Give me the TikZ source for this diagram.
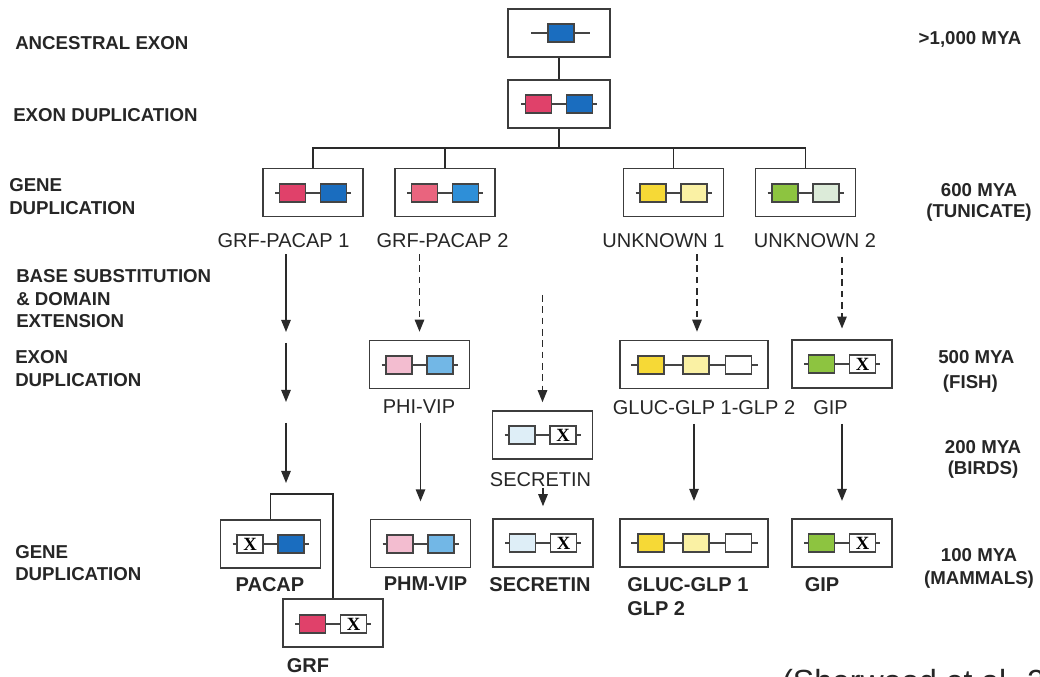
\documentclass[tikz,border=0pt]{standalone}
\usepackage{fontspec}
\setmainfont{Liberation Sans}
\newfontfamily\xfont{Liberation Serif}
\usetikzlibrary{arrows.meta}
\definecolor{blueA}{HTML}{1A6DBF}
\definecolor{pinkA}{HTML}{E0416A}
\definecolor{pinkB}{HTML}{E9647E}
\definecolor{blueB}{HTML}{2E8FD8}
\definecolor{pinkC}{HTML}{F3BDD0}
\definecolor{blueC}{HTML}{72B7E6}
\definecolor{yelA}{HTML}{F6D936}
\definecolor{yelB}{HTML}{FAF1A4}
\definecolor{grnA}{HTML}{8DC440}
\definecolor{grnB}{HTML}{DCEBD9}
\definecolor{secB}{HTML}{DEEEF7}
\definecolor{exc}{HTML}{444444}
\definecolor{boxc}{HTML}{3C3C3C}
\definecolor{linec}{HTML}{2A2A2A}
\definecolor{txt}{HTML}{262626}
\newcommand\XX{\xfont\bfseries\fontsize{14}{14}\selectfont X}
\newcommand\gtwo[7]{%
  \draw[exline] (#2-38,#3) -- (#2+38,#3);
  \node[exon,fill=#4] (#1a) at (#2-20.5,#3) {#5};
  \node[exon,fill=#6] (#1b) at (#2+20.5,#3) {#7};}
\begin{document}
\begin{tikzpicture}[x=0.75pt,y=-0.75pt,
  box/.style={draw=boxc,line width=1.15pt,minimum width=75pt,minimum height=36pt,inner sep=0pt},
  exon/.style={draw=exc,line width=0.8pt,minimum width=19.5pt,minimum height=13.5pt,inner sep=0pt},
  exline/.style={draw=exc,line width=1pt},
  stage/.style={font=\bfseries\fontsize{14}{17.25}\selectfont,align=left,anchor=north west,inner sep=0pt,text=txt},
  age/.style={font=\bfseries\fontsize{14}{15.75}\selectfont,align=center,anchor=north,inner sep=0pt,text=txt},
  gname/.style={font=\fontsize{15}{18}\selectfont,anchor=north,inner sep=0pt,text=txt},
  pname/.style={font=\bfseries\fontsize{15}{18}\selectfont,anchor=north,inner sep=0pt,text=txt},
  link/.style={draw=linec,line width=1.2pt},
  arr/.style={link,-{Triangle[length=9pt,width=7pt]}},
  darr/.style={arr,dash pattern=on 5pt off 3.5pt},
]
\useasboundingbox[fill=white] (0,0) rectangle (1040,677);

% stage labels (left)
\node[stage] (s1) at (15,36.3) {ANCESTRAL EXON};
\node[stage] (s2) at (13,108.3) {EXON DUPLICATION};
\node[stage] (s3) at (9,178.3) {GENE\\DUPLICATION};
\node[stage,font=\bfseries\fontsize{14}{16.9}\selectfont] (s4) at (16,269.3) {BASE SUBSTITUTION\\\& DOMAIN\\EXTENSION};
\node[stage] (s5) at (15,350.3) {EXON\\DUPLICATION};
\node[stage,font=\bfseries\fontsize{14}{16.5}\selectfont] (s6) at (15,545.3) {GENE\\DUPLICATION};

% ages (right)
\node[age] (m1) at (970,31.3) {>1,000 MYA};
\node[age] (m2) at (979,183.3) {600 MYA\\(TUNICATE)};
\node[age,align=left,anchor=north west,font=\bfseries\fontsize{14}{18.75}\selectfont] (m3) at (938,350.3) {500 MYA\\\hspace*{3.5pt}(FISH)};
\node[age] (m4) at (983,440.3) {200 MYA\\(BIRDS)};
\node[age,font=\bfseries\fontsize{14}{17.25}\selectfont] (m5) at (979,548.3) {100 MYA\\(MAMMALS)};

% boxes
\node[box,minimum width=76.5pt] (anc) at (559,33) {};
\node[box,minimum width=76.5pt] (dup) at (559,104) {};
\node[box] (g1) at (313,192.5) {};
\node[box] (g2) at (445,192.5) {};
\node[box] (g3) at (673.5,192.5) {};
\node[box] (g4) at (805.5,192.5) {};
\node[box] (phivip) at (419.5,364.5) {};
\node[box] (secmid) at (542.5,435) {};
\node[box,minimum width=111pt] (glucmid) at (694,364.5) {};
\node[box] (gipmid) at (842,364) {};
\node[box] (pacap) at (270.5,544) {};
\node[box] (grf) at (333,623) {};
\node[box] (phm) at (420.5,543.5) {};
\node[box] (secbot) at (543,543) {};
\node[box,minimum width=111pt] (glucbot) at (694,543) {};
\node[box] (gipbot) at (842,543) {};

% exons
\draw[exline] (531,33) -- (590,33);
\node[exon,fill=blueA] (ancx) at (561,33) {};
\gtwo{dupx}{559}{104}{pinkA}{}{blueA}{}
\gtwo{g1x}{313}{193}{pinkA}{}{blueA}{}
\gtwo{g2x}{445}{193}{pinkB}{}{blueB}{}
\gtwo{g3x}{673.5}{193}{yelA}{}{yelB}{}
\gtwo{g4x}{805.5}{193}{grnA}{}{grnB}{}
\gtwo{phix}{419.5}{365}{pinkC}{}{blueC}{}
\gtwo{secmx}{542.5}{435}{secB}{}{white}{\XX}
\gtwo{gipmx}{842}{364}{grnA}{}{white}{\XX}
\gtwo{pacx}{270.5}{544}{white}{\XX}{blueA}{}
\gtwo{grfx}{333}{624}{pinkA}{}{white}{\XX}
\gtwo{phmx}{420.5}{544}{pinkC}{}{blueC}{}
\gtwo{secbx}{543}{543}{secB}{}{white}{\XX}
\gtwo{gipbx}{842}{543}{grnA}{}{white}{\XX}
\draw[exline] (631,365) -- (758,365);
\node[exon,fill=yelA] (glmA) at (651,365) {};
\node[exon,fill=yelB] (glmB) at (696,365) {};
\node[exon,fill=white] (glmC) at (738.5,365) {};
\draw[exline] (631,543) -- (758,543);
\node[exon,fill=yelA] (glbA) at (651,543) {};
\node[exon,fill=yelB] (glbB) at (696,543) {};
\node[exon,fill=white] (glbC) at (738.5,543) {};

% gene names
\node[gname] (lg1) at (283.5,232.8) {GRF-PACAP 1};
\node[gname] (lg2) at (442.5,232.8) {GRF-PACAP 2};
\node[gname] (lu1) at (663.5,232.8) {UNKNOWN 1};
\node[gname] (lu2) at (815,232.8) {UNKNOWN 2};
\node[gname] (lphi) at (419,399.8) {PHI-VIP};
\node[gname] (lglm) at (704,399.8) {GLUC-GLP 1-GLP 2};
\node[gname] (lgipm) at (830.5,399.8) {GIP};
\node[gname] (lsecm) at (540.5,471.8) {SECRETIN};

\node[pname] (lpacap) at (270,576.8) {PACAP};
\node[pname] (lgrf) at (308,657.8) {GRF};
\node[pname] (lphm) at (425.5,576.8) {PHM-VIP};
\node[pname] (lsec) at (540,576.8) {SECRETIN};
\node[pname,anchor=north west,align=left] (lgluc) at (627,576.8) {GLUC-GLP 1\\GLP 2};
\node[pname] (lgip) at (822,576.8) {GIP};

\node[anchor=base west,font=\fontsize{24}{28}\selectfont,inner sep=0pt,text=txt] (cite) at (782,692) {(Sherwood et al. 2000)};

% tree at top
\draw[link] (anc.south) -- (dup.north);
\draw[link] (dup.south) -- ++(0,20);
\draw[link] (g1.north) -- ++(0,-20) -| (g4.north);
\draw[link] (g2.north) -- ++(0,-20);
\draw[link] (g3.north) -- ++(0,-20);

% GRF-PACAP 1 lineage
\coordinate (a1) at (286,332);
\coordinate (a1s) at (286,343);
\coordinate (a2) at (286,402);
\coordinate (a2s) at (286,423);
\coordinate (a3) at (286,483);
\coordinate (brk) at (300,494);
\draw[arr,shorten <=5pt] (lg1.south -| a1) -- (a1);
\draw[arr] (a1s) -- (a2);
\draw[arr] (a2s) -- (a3);
\draw[link] (pacap.north) |- (brk) -| (grf.north);

% GRF-PACAP 2 lineage
\draw[darr,shorten <=5pt,shorten >=6pt] (lg2.south -| phivip.north) -- (phivip.north);
\draw[arr,shorten <=7pt,shorten >=13pt] (lphi.south -| phm.north) -- (phm.north);

% secretin lineage
\coordinate (sec0) at (542.5,295);
\draw[darr,shorten >=6pt] (sec0) -- (secmid.north);
\draw[arr,shorten <=1pt,shorten >=9pt] (lsecm.south -| secbot.north) -- (secbot.north);

% UNKNOWN 1 lineage
\draw[darr,shorten <=5pt,shorten >=6pt] (lu1.south -| glucmid.north) ++(3,0) -- ([xshift=2.25pt]glucmid.north);
\draw[arr,shorten <=7pt,shorten >=13pt] (lglm.south -| glucbot.north) -- (glucbot.north);

% UNKNOWN 2 lineage
\draw[darr,shorten <=7pt,shorten >=8pt] (lu2.south -| gipmid.north) -- (gipmid.north);
\draw[arr,shorten <=7pt,shorten >=13pt] (lgipm.south -| gipbot.north) -- (gipbot.north);
\end{tikzpicture}
\end{document}
